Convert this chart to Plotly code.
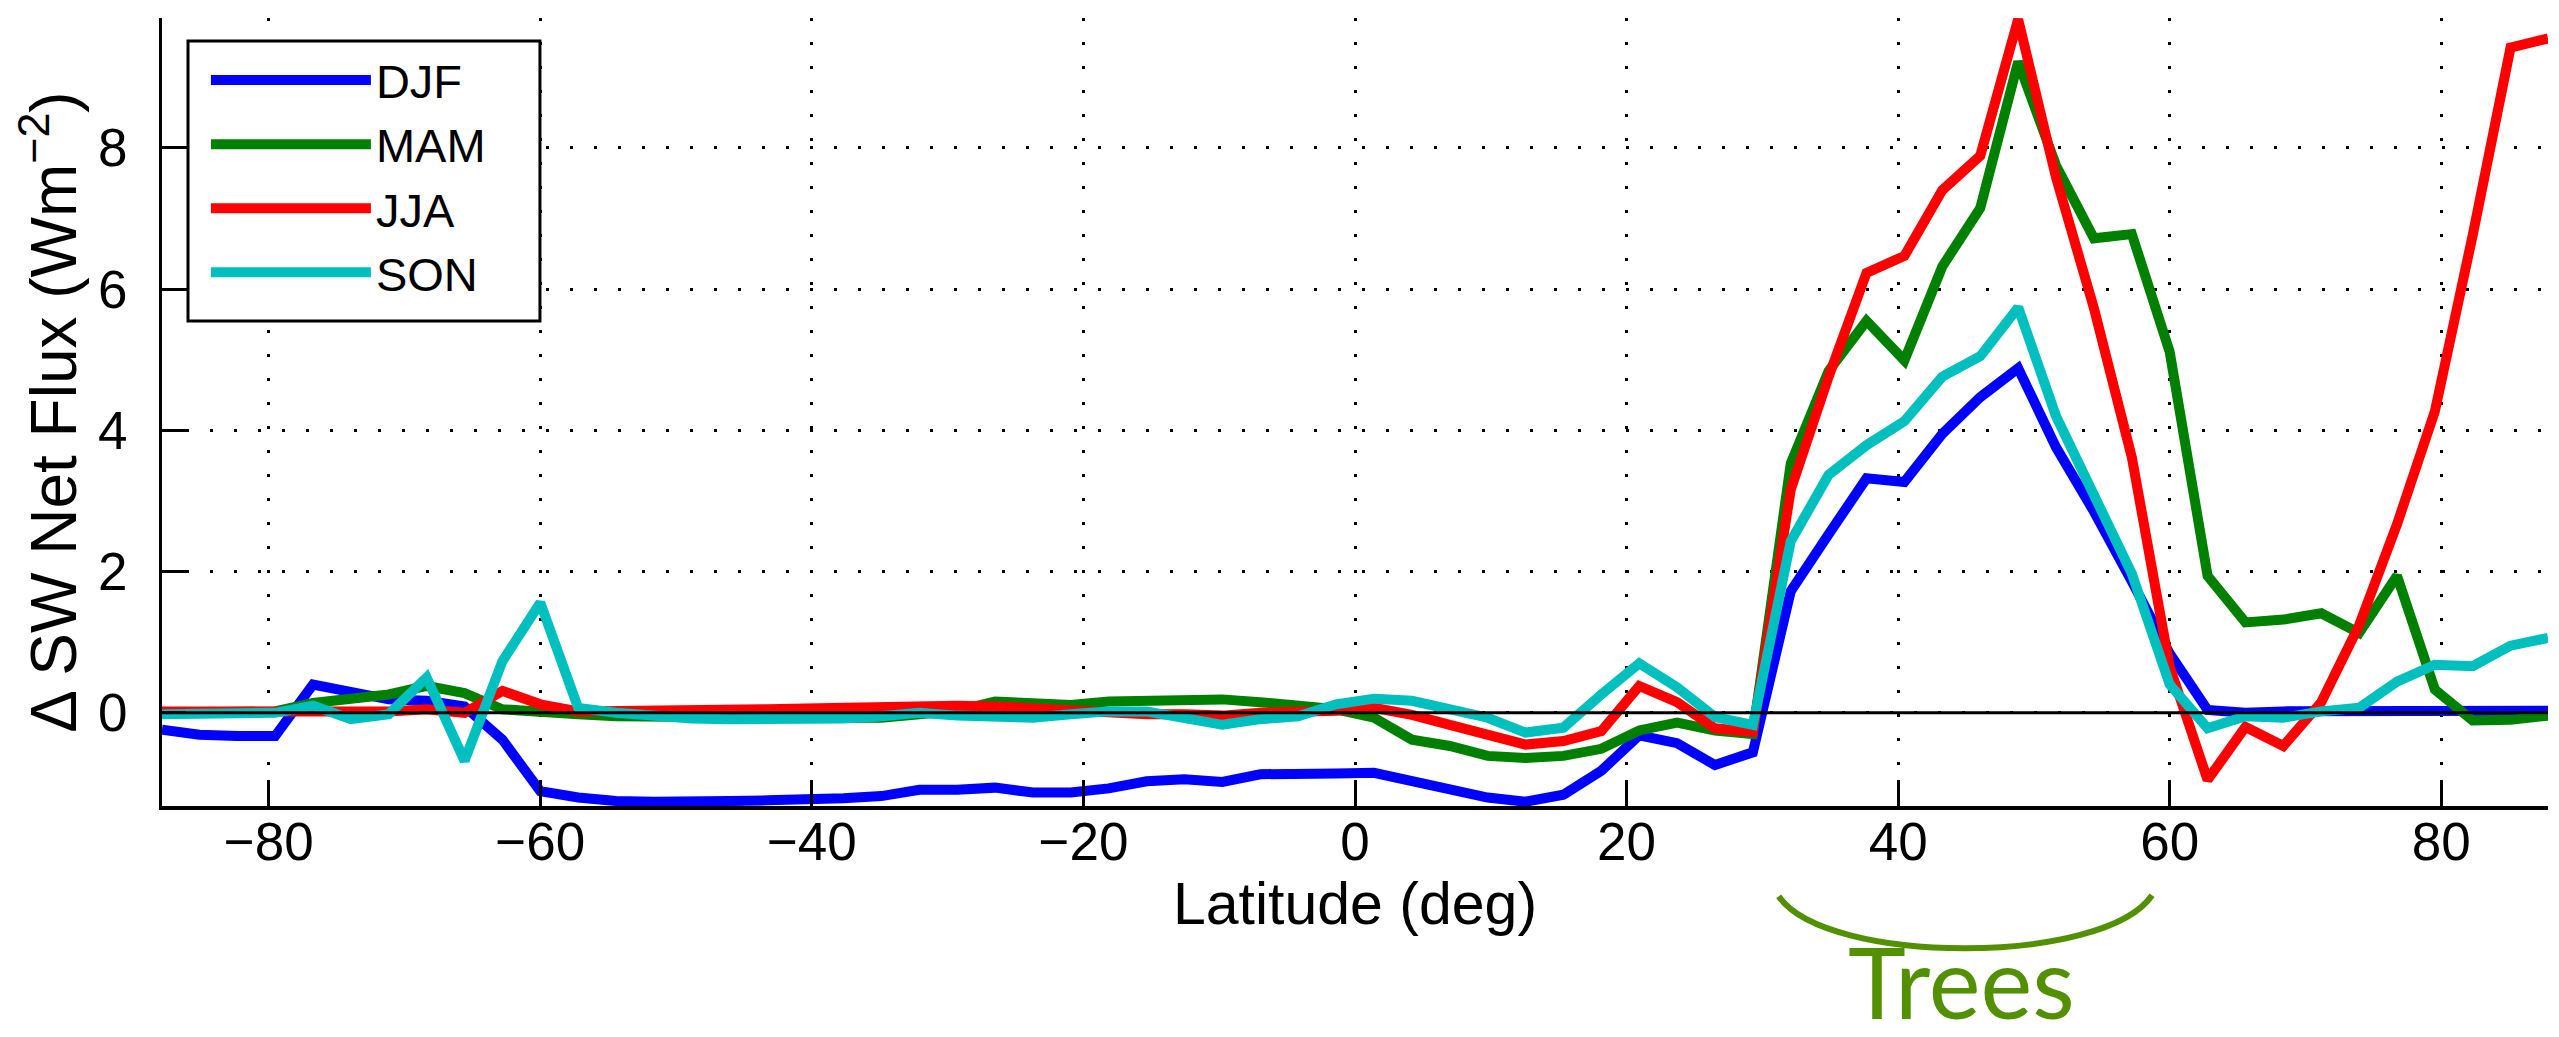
import plotly.graph_objects as go

# Latitudes (T42 Gaussian grid, deg)
LAT = [-87.86, -85.10, -82.31, -79.53, -76.74, -73.95, -71.16, -68.37, -65.58, -62.79,
       -60.00, -57.21, -54.42, -51.63, -48.84, -46.05, -43.25, -40.46, -37.67, -34.88,
       -32.09, -29.30, -26.51, -23.72, -20.93, -18.14, -15.35, -12.56, -9.77, -6.98,
       -4.19, -1.40, 1.40, 4.19, 6.98, 9.77, 12.56, 15.35, 18.14, 20.93,
       23.72, 26.51, 29.30, 32.09, 34.88, 37.67, 40.46, 43.25, 46.05, 48.84,
       51.63, 54.42, 57.21, 60.00, 62.79, 65.58, 68.37, 71.16, 73.95, 76.74,
       79.53, 82.31, 85.10, 87.86]

DJF = [-0.24, -0.31, -0.33, -0.33, 0.40, 0.28, 0.19, 0.17, 0.09, -0.38,
       -1.11, -1.20, -1.25, -1.26, -1.27, -1.25, -1.24, -1.24, -1.21, -1.18,
       -1.09, -1.09, -1.06, -1.13, -1.13, -1.07, -0.97, -0.94, -0.98, -0.87,
       -0.85, -0.86, -0.85, -0.97, -1.11, -1.20, -1.26, -1.16, -0.82, -0.32,
       -0.43, -0.74, -0.56, 1.72, 2.53, 3.32, 3.27, 3.95, 4.47, 4.88,
       3.76, 2.85, 1.86, 0.84, 0.04, 0.00, 0.02, 0.02, 0.03, 0.03,
       0.03, 0.03, 0.03, 0.03]

MAM = [0.00, 0.00, 0.00, 0.02, 0.14, 0.21, 0.26, 0.38, 0.28, 0.05,
       0.00, -0.02, -0.05, -0.06, -0.07, -0.07, -0.07, -0.07, -0.07, -0.07,
       -0.02, 0.03, 0.16, 0.14, 0.11, 0.16, 0.18, 0.20, 0.19, 0.15,
       0.10, 0.05, -0.07, -0.38, -0.47, -0.61, -0.64, -0.61, -0.51, -0.25,
       -0.14, -0.25, -0.30, 3.53, 4.84, 5.55, 4.99, 6.32, 7.15, 9.22,
       7.75, 6.72, 6.78, 5.11, 1.94, 1.28, 1.32, 1.41, 1.13, 1.94,
       0.33, -0.11, -0.10, -0.04]

JJA = [0.02, 0.02, 0.02, 0.02, 0.02, 0.00, 0.02, 0.05, 0.00, 0.31,
       0.12, 0.02, 0.02, 0.03, 0.03, 0.04, 0.05, 0.06, 0.07, 0.09,
       0.12, 0.10, 0.09, 0.06, 0.05, -0.01, -0.02, -0.02, -0.04, 0.00,
       0.00, 0.03, 0.07, -0.03, -0.17, -0.31, -0.45, -0.40, -0.26, 0.38,
       0.15, -0.22, -0.27, 3.16, 4.76, 6.23, 6.47, 7.40, 7.89, 9.82,
       7.58, 5.73, 3.62, 0.65, -0.95, -0.20, -0.47, 0.15, 1.24, 2.67,
       4.27, 6.76, 9.42, 9.55]

SON = [-0.02, -0.02, -0.02, 0.00, 0.10, -0.09, -0.02, 0.50, -0.68, 0.73,
       1.56, 0.07, 0.00, -0.05, -0.08, -0.09, -0.09, -0.09, -0.08, -0.05,
       0.00, -0.04, -0.04, -0.07, -0.02, 0.02, 0.02, -0.06, -0.17, -0.09,
       -0.05, 0.12, 0.20, 0.17, 0.06, -0.07, -0.28, -0.21, 0.26, 0.70,
       0.36, -0.06, -0.17, 2.43, 3.37, 3.79, 4.13, 4.76, 5.05, 5.74,
       4.20, 3.07, 1.97, 0.40, -0.22, -0.05, -0.07, 0.02, 0.07, 0.44,
       0.68, 0.66, 0.95, 1.06]

SERIES = [("DJF", DJF, "#0000FF"), ("MAM", MAM, "#008000"),
          ("JJA", JJA, "#FF0000"), ("SON", SON, "#00BFBF")]

X_TICKS = [-80, -60, -40, -20, 0, 20, 40, 60, 80]
Y_TICKS = [0, 2, 4, 6, 8]

FONT = "Liberation Sans, Arial, Helvetica, sans-serif"
TREES_GREEN = "#529000"

fig = go.Figure()
for name, vals, col in SERIES:
    fig.add_trace(go.Scatter(x=LAT, y=vals, mode="lines", name=name,
                             line=dict(color=col, width=10)))

# zero reference line drawn on top of the data
fig.add_shape(type="line", xref="paper", x0=0, x1=1, yref="y", y0=0, y1=0,
              line=dict(color="black", width=3), layer="above")

# legend frame (white box with black border, hides grid behind the legend)
fig.add_shape(type="rect", xref="paper", yref="paper",
              x0=0.0109, x1=0.1584, y0=0.6155, y1=0.9708,
              fillcolor="white", line=dict(color="black", width=3), layer="above")

# "Trees" bracket below the axis
fig.add_shape(type="path", xref="x", yref="paper",
              path="M 31.2,-0.1146 C 34.7,-0.2027 55.2,-0.2027 58.7,-0.1133",
              line=dict(color=TREES_GREEN, width=6))
fig.add_annotation(x=44.7, xref="x", y=-0.299, yref="paper", text="Trees",
                   showarrow=False, xanchor="center", yanchor="bottom",
                   font=dict(family="Lato, Open Sans, sans-serif", size=98,
                             color=TREES_GREEN))

fig.update_layout(
    width=2559, height=1037,
    margin=dict(l=154, r=19, t=10, b=239),
    paper_bgcolor="white", plot_bgcolor="white",
    font=dict(family=FONT, size=53, color="black"),
    showlegend=True,
    legend=dict(x=0.0184, xanchor="left", y=0.9683, yanchor="top",
                bgcolor="rgba(0,0,0,0)", borderwidth=0,
                font=dict(family=FONT, size=47, color="black"),
                itemwidth=160, tracegroupgap=0),
    xaxis=dict(range=[-87.86, 87.86], tickvals=X_TICKS, ticks="inside",
               ticklen=26, tickwidth=3, tickcolor="black",
               showline=True, linecolor="black", linewidth=4, mirror=False,
               showgrid=True, gridcolor="black", gridwidth=2.5, griddash="3px,21px",
               zeroline=False, tickfont=dict(size=53), ticklabelstandoff=-14,
               title=dict(text="Latitude (deg)", font=dict(size=59), standoff=0)),
    yaxis=dict(range=[-1.32, 9.84], tickvals=Y_TICKS, ticks="inside",
               ticklen=24, tickwidth=3, tickcolor="black",
               showline=True, linecolor="black", linewidth=3, mirror=False,
               showgrid=True, gridcolor="black", gridwidth=2.5, griddash="3px,21px",
               zeroline=False, tickfont=dict(size=53), ticklabelstandoff=21,
               title=dict(text="Δ SW Net Flux (Wm<sup>−2</sup>)", font=dict(size=64),
                          standoff=12)),
)

fig.write_html("out.html")
